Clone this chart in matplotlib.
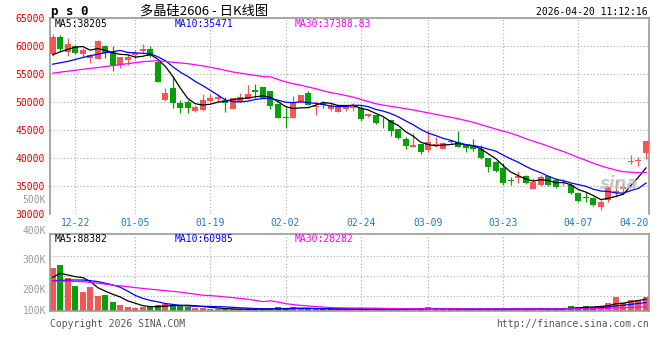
import matplotlib
matplotlib.use("Agg")
import matplotlib.pyplot as plt
import numpy as np
import pandas as pd

# daily bars, index 0 = 12-17 ... index 79 = 04-20
opens = [58626, 61721, 58983, 60054, 58626, 57971, 57733, 60054, 59042, 56661,
         57554, 58388, 59221, 59518, 57257, 50412, 52614, 49936, 50114, 48500,
         48625, 50292, 50589, 50411, 48804, 50113, 50589, 52197, 52792, 52078,
         49697, 47316, 47257, 50113, 51720, 49221, 49816, 48804, 48209, 48800,
         48923, 49000, 47600, 47730, 46720, 46839, 45232, 43447, 42078, 42554,
         41482, 42450, 41661, 43030, 42970, 42375, 42375, 41661, 39994, 39300,
         38209, 36100, 36423, 36840, 34459, 35233, 36840, 36126, 35700, 35233,
         33864, 33100, 32971, 31245, 32554, 33745, 34459, 39400, 39600, 40888]
highs = [62197, 62018, 61423, 60233, 59637, 58566, 61066, 60233, 60054, 58149,
         58626, 59340, 60411, 60054, 57554, 52495, 54578, 50412, 50412, 49500,
         51482, 51423, 51423, 51006, 50828, 51601, 53089, 53208, 52792, 52078,
         49697, 49102, 51125, 51304, 52078, 50300, 50233, 49816, 49399, 49550,
         49816, 49600, 47950, 47800, 47300, 46839, 45300, 43863, 44459, 42600,
         45054, 43863, 42851, 43268, 44875, 42450, 43387, 42375, 40100, 39600,
         39102, 36721, 37792, 37018, 36423, 37018, 37018, 36423, 36250, 35530,
         34042, 34042, 33150, 32554, 34935, 36126, 35650, 40590, 40292, 43090]
lows = [58268, 59221, 58328, 58626, 58149, 57078, 57733, 57971, 55650, 56066,
        56661, 57673, 58864, 58030, 53685, 50233, 48924, 48149, 48149, 48300,
        48500, 50113, 49994, 48328, 48804, 50113, 50589, 50828, 50709, 48744,
        47138, 45352, 47257, 49994, 49518, 47700, 48923, 48447, 48209, 48500,
        48500, 46750, 47450, 46200, 45500, 44042, 43387, 41661, 42078, 40709,
        41065, 42078, 41600, 42673, 42000, 41185, 41363, 39900, 37613, 37600,
        35233, 35233, 35650, 35411, 34459, 35054, 35054, 34637, 35000, 33626,
        32256, 32256, 31484, 30769, 32256, 33150, 33745, 38923, 38626, 39816]
closes = [61721, 59459, 60411, 58864, 59340, 58447, 60947, 58745, 56661, 58030,
          58030, 58864, 59518, 58328, 53685, 51602, 49936, 49043, 49043, 49100,
          50411, 50709, 50887, 49816, 50709, 51006, 51482, 51899, 50709, 49340,
          47138, 47138, 50113, 51304, 49518, 49340, 49518, 49399, 49399, 49450,
          49518, 47000, 47850, 46300, 46600, 44934, 43685, 42197, 42375, 41185,
          42851, 42600, 42792, 42910, 42078, 41780, 41661, 39994, 38506, 37700,
          35530, 35950, 36840, 35530, 35828, 36721, 35233, 34816, 35830, 33745,
          32435, 33000, 31662, 32257, 34935, 34161, 34935, 39520, 39700, 43090]
volumes_k = [322, 343, 248, 185, 143, 178, 110, 118, 65, 43,
             30, 23, 28, 28, 43, 50, 43, 38, 30, 23,
             23, 14, 10, 10, 10, 14, 14, 14, 10, 14,
             28, 10, 28, 14, 14, 14, 10, 12, 12, 12,
             12, 14, 10, 12, 14, 14, 14, 14, 14, 14,
             28, 10, 10, 10, 14, 10, 10, 14, 14, 10,
             14, 14, 14, 10, 14, 14, 14, 14, 14, 35,
             28, 35, 28, 35, 58, 105, 58, 80, 80, 105]

# moving-average values read off the chart where earlier days are not shown
ma5_head = [58500, 59000, 59450, 59850]
ma10_head = [56800, 57050, 57300, 57650, 58000, 58300, 58600, 58850, 59050]
ma30_head = [55200, 55380, 55550, 55720, 55900, 56050, 56200, 56380, 56550, 56720,
             56900, 57080, 57250, 57350, 57430, 57300, 57150, 57030, 56900, 56700,
             56500, 56250, 56000, 55700, 55400, 55200, 55000, 54800, 54600]
vma5_head = [250, 280, 268, 255]
vma10_head = [225, 227, 230, 230, 230, 225, 218, 206, 193]
vma30_head = [223, 221, 220, 219, 218, 212, 206, 199, 191, 186,
              180, 173, 167, 161, 156, 150, 145, 139, 131, 124,
              116, 113, 109, 103, 98, 92, 86, 77, 68]

date_idx = [3, 11, 21, 31, 41, 50, 60, 70]
date_labels = ['12-22', '01-05', '01-19', '02-02', '02-24', '03-09', '03-23', '04-07']
last_date = '04-20'
price_ticks = [30000, 35000, 40000, 45000, 50000, 55000, 60000, 65000]
vol_labels = ['500K', '400K', '300K', '200K', '100K']

RED = '#f45656'
GREEN = '#08a008'
GRID = dict(color='#aaaaaa', linestyle=(0, (1, 2)), linewidth=0.8)


def moving_avg(values, n, head):
    out = pd.Series(values, dtype=float).rolling(n).mean().to_numpy()
    out[:n - 1] = head
    return out


plt.rcParams['font.family'] = ['DejaVu Sans Mono']
fig = plt.figure(figsize=(6.6, 3.6), dpi=100)
W, H = 660.0, 360.0
ax = fig.add_axes([50 / W, 1 - 214.3 / H, 599 / W, 196 / H])
axv = fig.add_axes([50 / W, 1 - 310.7 / H, 599 / W, 76.7 / H])

x = np.arange(len(closes))
o, h, l, c = map(np.array, (opens, highs, lows, closes))
up = c >= o
colors = np.where(up, RED, GREEN)

# candles
ax.vlines(x, l, h, colors=colors, linewidth=0.9, zorder=2)
body_low = np.minimum(o, c)
body_h = np.maximum(np.abs(c - o), 130)
ax.bar(x, body_h, bottom=body_low, width=0.8, color=colors, linewidth=0, zorder=3)

ma_cols = ['black', '#0000ff', '#ff00ff']
for n, head, col in zip([5, 10, 30], [ma5_head, ma10_head, ma30_head], ma_cols):
    ax.plot(x, moving_avg(closes, n, head), color=col, linewidth=0.9, zorder=4)

ax.set_xlim(-0.36, 79.4)
ax.set_ylim(30000, 65000)
ax.set_yticks(price_ticks)
ax.set_xticks(date_idx)
ax.set_xticklabels(date_labels)
ax.tick_params(axis='y', length=0, pad=4, labelsize=7, labelcolor='#e00000')
ax.tick_params(axis='x', length=0, pad=2.4, labelsize=7, labelcolor='#1f78c8')
ax.grid(True, **GRID)
for s in ['left', 'top', 'right']:
    ax.spines[s].set_color('#999999')
    ax.spines[s].set_linewidth(1.2)
ax.spines['bottom'].set_visible(False)
ax.text(79.4, -3.4 / 196, last_date, transform=ax.get_xaxis_transform(),
        ha='right', va='top', fontsize=7, color='#1f78c8')

ax.text(0.0083, 0.971, 'MA5:38205', transform=ax.transAxes, fontsize=7,
        color='black', va='center')
ax.text(0.2087, 0.971, 'MA10:35471', transform=ax.transAxes, fontsize=7,
        color='#0000ff', va='center')
ax.text(0.409, 0.971, 'MA30:37388.83', transform=ax.transAxes, fontsize=7,
        color='#ff00ff', va='center')

# volume
axv.bar(x, volumes_k, width=0.8, color=colors, linewidth=0, zorder=2)
for n, head, col in zip([5, 10, 30], [vma5_head, vma10_head, vma30_head], ma_cols):
    axv.plot(x, moving_avg(volumes_k, n, head), color=col, linewidth=0.9, zorder=3)
axv.set_xlim(-0.36, 79.4)
axv.set_ylim(0, 575)
axv.set_yticks([110, 260, 410])
axv.set_xticks(date_idx[1:])
axv.tick_params(length=0, labelleft=False, labelbottom=False)
axv.grid(True, **GRID)
for s in axv.spines.values():
    s.set_color('#999999')
    s.set_linewidth(1.2)
for lab, yv in zip(vol_labels, [830, 598, 380, 155, 0]):
    axv.text(-4 / 599, yv, lab, transform=axv.get_yaxis_transform(), ha='right',
             va='center', fontsize=7, color='#999999', clip_on=False)
axv.text(0.0083, 0.935, 'MA5:88382', transform=axv.transAxes, fontsize=7,
         color='black', va='center')
axv.text(0.2087, 0.935, 'MA10:60985', transform=axv.transAxes, fontsize=7,
         color='#0000ff', va='center')
axv.text(0.409, 0.935, 'MA30:28282', transform=axv.transAxes, fontsize=7,
         color='#ff00ff', va='center')

# header / footer
fig.text(51 / W, 1 - 12 / H, 'p s 0', fontsize=9, fontweight='bold', va='center')
fig.text(140 / W, 1 - 11 / H, '多晶硅2606 - 日K线图', fontsize=9.5, va='center',
         family=['Noto Sans CJK SC', 'DejaVu Sans'])
fig.text(648 / W, 1 - 12 / H, '2026-04-20 11:12:16', fontsize=7, ha='right', va='center')
fig.text(50 / W, 1 - 324 / H, 'Copyright 2026 SINA.COM', fontsize=7, color='#555555',
         va='center')
fig.text(649 / W, 1 - 324 / H, 'http://finance.sina.com.cn', fontsize=7,
         color='#555555', ha='right', va='center')
fig.text(600 / W, 1 - 184 / H, 'sina', fontsize=12, style='italic', fontweight='bold',
         color='#bbbbbb', va='center', family=['DejaVu Sans'], alpha=0.8)

fig.savefig('out.png', dpi=100)
